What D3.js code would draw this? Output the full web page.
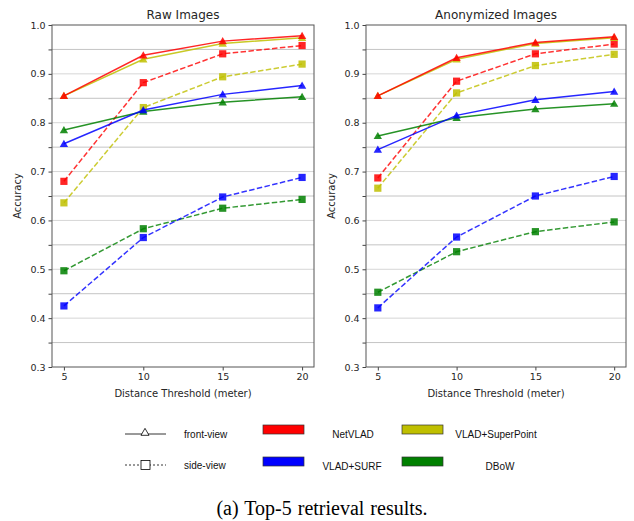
<!DOCTYPE html>
<html>
<head>
<meta charset="utf-8">
<script src="https://d3js.org/d3.v7.min.js"></script>
<style>
  body { margin: 0; background: #fff; }
</style>
</head>
<body>
<svg width="634" height="521" font-family="DejaVu Sans, sans-serif"></svg>
<script>
const thresholds = [5, 10, 15, 20];
const methods = ["NetVLAD", "VLAD+SuperPoint", "VLAD+SURF", "DBoW"];
const colors = ["#ff0000", "#bfbf00", "#0000ff", "#008000"];

// Raw images
const rawFront = {
  "NetVLAD":         [0.855, 0.938, 0.967, 0.978],
  "VLAD+SuperPoint": [0.855, 0.930, 0.962, 0.974],
  "VLAD+SURF":       [0.757, 0.826, 0.858, 0.876],
  "DBoW":            [0.785, 0.823, 0.842, 0.853]
};
const rawSide = {
  "NetVLAD":         [0.680, 0.882, 0.941, 0.958],
  "VLAD+SuperPoint": [0.636, 0.831, 0.894, 0.920],
  "VLAD+SURF":       [0.425, 0.565, 0.648, 0.688],
  "DBoW":            [0.497, 0.583, 0.625, 0.643]
};
// Anonymized images
const anonFront = {
  "NetVLAD":         [0.855, 0.933, 0.964, 0.976],
  "VLAD+SuperPoint": [0.855, 0.930, 0.962, 0.974],
  "VLAD+SURF":       [0.745, 0.815, 0.847, 0.864],
  "DBoW":            [0.773, 0.810, 0.828, 0.839]
};
const anonSide = {
  "NetVLAD":         [0.687, 0.885, 0.941, 0.961],
  "VLAD+SuperPoint": [0.666, 0.861, 0.917, 0.940],
  "VLAD+SURF":       [0.421, 0.566, 0.650, 0.690],
  "DBoW":            [0.453, 0.536, 0.577, 0.597]
};
const yTicks = [0.3, 0.4, 0.5, 0.6, 0.7, 0.8, 0.9, 1.0];
const yMinor = [0.35, 0.45, 0.55, 0.65, 0.75, 0.85, 0.95];

const svg = d3.select("svg");
const color = d3.scaleOrdinal().domain(methods).range(colors);

function panel(title, front, side, left, right) {
  const top = 25, bottom = 367;
  const x = d3.scaleLinear().domain([4.25, 20.75]).range([left, right]);
  const y = d3.scaleLinear().domain([0.3, 1.0]).range([bottom, top]);
  const g = svg.append("g");

  // grid
  g.selectAll(".gmin").data(yMinor).enter().append("line")
    .attr("x1", left).attr("x2", right)
    .attr("y1", d => y(d)).attr("y2", d => y(d))
    .attr("stroke", "#c4c4c4").attr("stroke-width", 1);
  g.selectAll(".gmaj").data(yTicks.slice(1, -1)).enter().append("line")
    .attr("x1", left).attr("x2", right)
    .attr("y1", d => y(d)).attr("y2", d => y(d))
    .attr("stroke", "#d6d6d6").attr("stroke-width", 1);

  // axes
  const ax = g.append("g").attr("transform", `translate(0,${bottom})`)
    .call(d3.axisBottom(x).tickValues(thresholds).tickSize(3.5).tickPadding(3));
  const ay = g.append("g").attr("transform", `translate(${left},0)`)
    .call(d3.axisLeft(y).tickValues(yTicks).tickFormat(d3.format(".1f")).tickSize(3.5).tickPadding(3));
  g.append("g").attr("transform", `translate(${left},0)`)
    .call(d3.axisLeft(y).tickValues(yMinor).tickFormat("").tickSize(3.5));
  [ax, ay].forEach(a => {
    a.selectAll("text").attr("font-size", 9.5).attr("fill", "#262626")
      .attr("font-family", "DejaVu Sans");
  });
  g.selectAll("g").selectAll("line").attr("stroke", "#444");
  g.selectAll("g").select(".domain").remove();

  g.append("rect").attr("x", left).attr("y", top)
    .attr("width", right - left).attr("height", bottom - top)
    .attr("fill", "none").attr("stroke", "#555").attr("stroke-width", 1);

  const line = d3.line().x((d, i) => x(thresholds[i])).y(d => y(d));
  const order = ["DBoW", "VLAD+SURF", "VLAD+SuperPoint", "NetVLAD"];

  order.forEach(m => {
    g.append("path").datum(side[m]).attr("d", line)
      .attr("fill", "none").attr("stroke", color(m)).attr("stroke-width", 1.5)
      .attr("stroke-dasharray", "5.5,2.4").attr("opacity", 0.8);
    g.selectAll(null).data(side[m]).enter().append("rect")
      .attr("x", (d, i) => x(thresholds[i]) - 3.6)
      .attr("y", d => y(d) - 3.6)
      .attr("width", 7.2).attr("height", 7.2)
      .attr("fill", color(m)).attr("opacity", 0.85);
  });
  const tri = d3.symbol().type(d3.symbolTriangle).size(30);
  order.forEach(m => {
    g.append("path").datum(front[m]).attr("d", line)
      .attr("fill", "none").attr("stroke", color(m)).attr("stroke-width", 1.5)
      .attr("opacity", 0.85);
    g.selectAll(null).data(front[m]).enter().append("path")
      .attr("d", tri)
      .attr("transform", (d, i) => `translate(${x(thresholds[i])},${y(d) + 0.8})`)
      .attr("fill", color(m)).attr("opacity", 0.85);
  });

  g.append("text").attr("x", (left + right) / 2).attr("y", 19)
    .attr("text-anchor", "middle").attr("font-size", 12).attr("fill", "#262626")
    .text(title);
  g.append("text").attr("x", (left + right) / 2).attr("y", 397)
    .attr("text-anchor", "middle").attr("font-size", 10).attr("fill", "#262626")
    .text("Distance Threshold (meter)");
  g.append("text")
    .attr("transform", `translate(${left - 31},${(top + bottom) / 2}) rotate(-90)`)
    .attr("text-anchor", "middle").attr("font-size", 10).attr("fill", "#262626")
    .text("Accuracy");
}

panel("Raw Images", rawFront, rawSide, 52, 314);
panel("Anonymized Images", anonFront, anonSide, 366, 626);

// legend
const legendFont = "Liberation Sans, Arial, sans-serif";
const lg = svg.append("g");
const styleRows = [
  { label: "front-view", dash: null, marker: "tri", y: 434 },
  { label: "side-view", dash: "2,2", marker: "sq", y: 465 }
];
styleRows.forEach(r => {
  lg.append("line").attr("x1", 125).attr("x2", 166).attr("y1", r.y).attr("y2", r.y)
    .attr("stroke", "#000").attr("stroke-width", 0.8)
    .attr("stroke-dasharray", r.dash);
  if (r.marker === "tri") {
    lg.append("path").attr("d", d3.symbol().type(d3.symbolTriangle).size(28))
      .attr("transform", `translate(145,${r.y - 1})`)
      .attr("fill", "#fff").attr("stroke", "#000").attr("stroke-width", 0.8);
  } else {
    lg.append("rect").attr("x", 141).attr("y", r.y - 4.5).attr("width", 9).attr("height", 9)
      .attr("fill", "#fff").attr("stroke", "#000").attr("stroke-width", 0.8);
  }
  lg.append("text").attr("x", 184).attr("y", r.y + 3.5)
    .attr("font-size", 10).attr("fill", "#111").attr("font-family", legendFont)
    .text(r.label);
});
const swatchPos = [
  { x: 263, y: 425, tx: 353 },
  { x: 402, y: 425, tx: 496 },
  { x: 263, y: 457, tx: 352 },
  { x: 402, y: 457, tx: 500 }
];
methods.forEach((m, i) => {
  const p = swatchPos[i];
  lg.append("rect").attr("x", p.x).attr("y", p.y).attr("width", 41).attr("height", 9)
    .attr("fill", color(m)).attr("stroke", "#333").attr("stroke-width", 0.7);
  lg.append("text").attr("x", p.tx).attr("y", p.y + 12.5).attr("text-anchor", "middle")
    .attr("font-size", 10).attr("fill", "#111").attr("font-family", legendFont)
    .text(m);
});

svg.append("text").attr("x", 322).attr("y", 515).attr("text-anchor", "middle")
  .attr("font-family", "Liberation Serif, Times New Roman, serif").attr("font-size", 20)
  .attr("word-spacing", 1)
  .attr("fill", "#000").text("(a) Top-5 retrieval results.");
</script>
</body>
</html>
